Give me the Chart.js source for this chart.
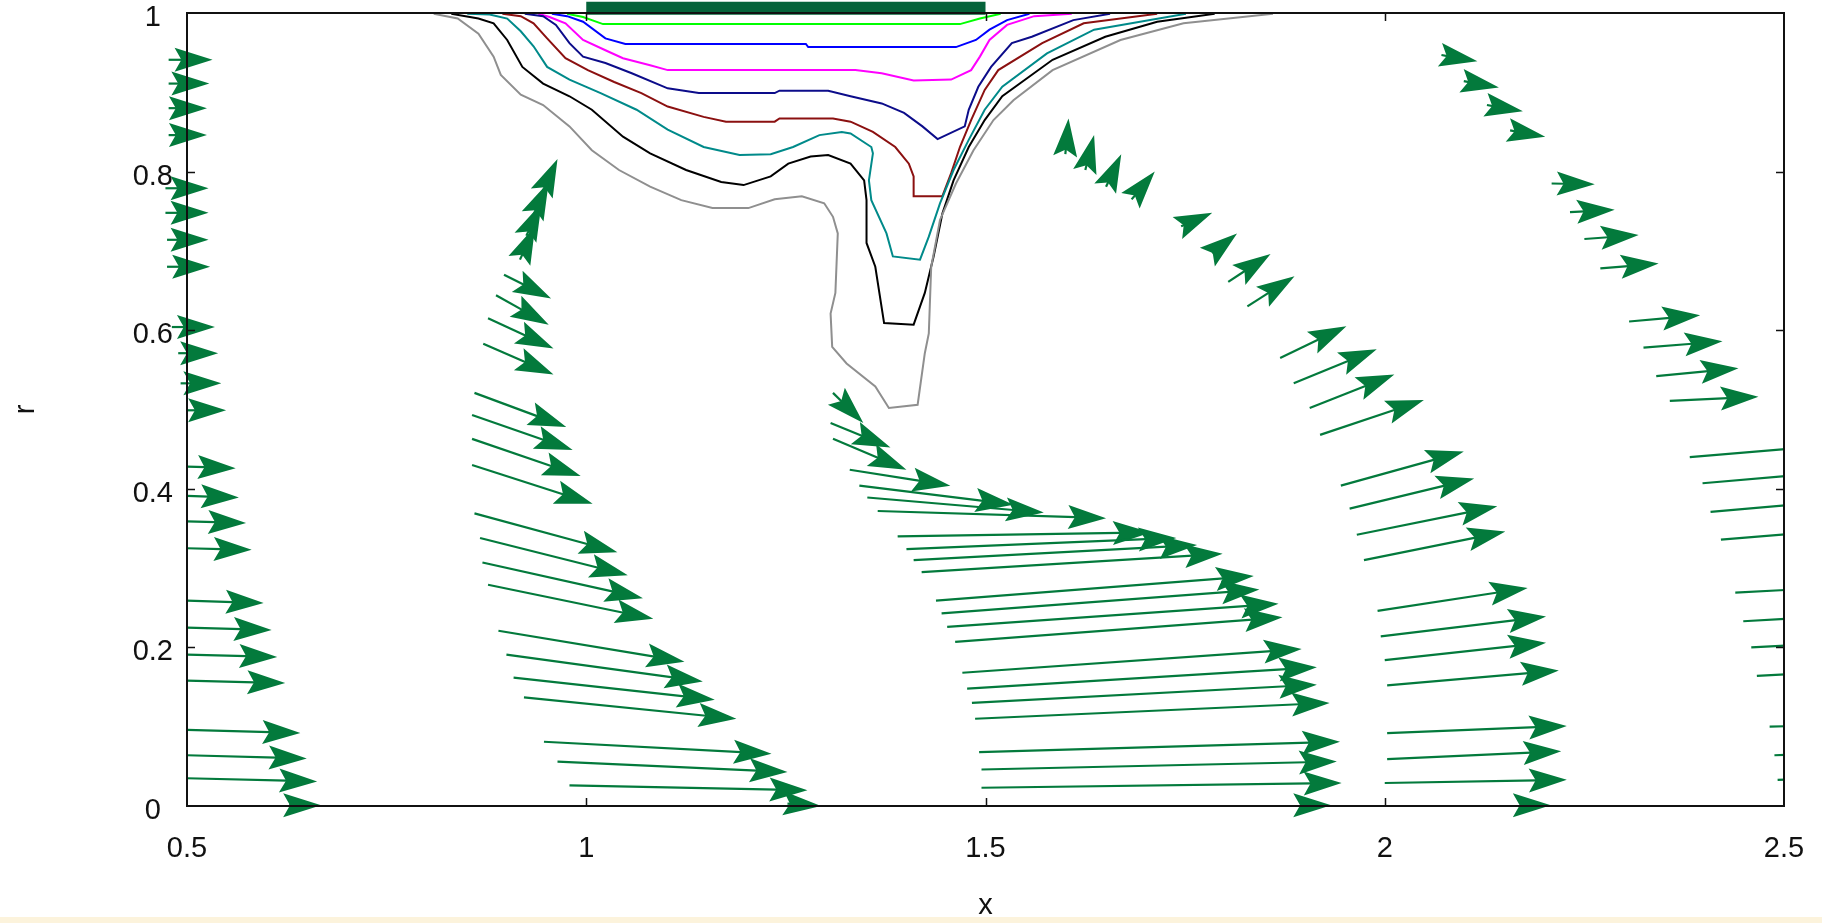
<!DOCTYPE html>
<html>
<head>
<meta charset="utf-8">
<script src="https://cdn.jsdelivr.net/npm/chart.js@4"></script>
<style>
html, body { margin: 0; padding: 0; background: #fff; overflow: hidden; }
#wrap { position: relative; width: 1822px; height: 923px; }
#band { position: absolute; left: 0; top: 917px; width: 1822px; height: 6px; background: #fcf3dc; }
</style>
</head>
<body>
<div id="wrap">
<canvas id="chart" width="1822" height="923"></canvas>
<div id="band"></div>
</div>
<script>

// axis ticks
const xTicks = [0.5, 1, 1.5, 2, 2.5]
const yTicks = [0, 0.2, 0.4, 0.6, 0.8, 1]

// heater bar on the wall (x from / to, r)
const barX = [1.0, 1.5]
const barY = 1.006

// 🔹 contour lines, [x, r] pairs
const contourGreen = [[0.976,0.999],[0.996,0.995],[1.021,0.986],[1.468,0.986],[1.493,0.993],[1.519,0.999]]

const contourBlue = [[0.957,0.999],[0.976,0.996],[0.996,0.989],[1.024,0.968],[1.049,0.961],[1.275,0.961],
[1.278,0.957],[1.463,0.957],[1.488,0.966],[1.505,0.979],[1.527,0.991],[1.555,0.999]]

const contourMagenta = [[0.940,0.999],[0.954,0.995],[0.974,0.987],[0.996,0.966],[1.024,0.953],[1.046,0.943],
[1.080,0.934],[1.102,0.928],[1.337,0.928],[1.370,0.924],[1.410,0.915],[1.457,0.916],[1.482,0.928],
[1.493,0.945],[1.505,0.966],[1.527,0.985],[1.561,0.996],[1.608,0.999]]

const contourNavy = [[0.923,0.999],[0.946,0.996],[0.962,0.985],[0.979,0.962],[0.996,0.945],[1.024,0.937],
[1.057,0.924],[1.102,0.905],[1.141,0.899],[1.236,0.899],[1.242,0.902],[1.303,0.902],[1.331,0.895],
[1.370,0.886],[1.398,0.874],[1.421,0.857],[1.440,0.841],[1.474,0.857],[1.479,0.878],[1.491,0.907],
[1.507,0.932],[1.533,0.962],[1.558,0.970],[1.610,0.991],[1.656,0.999]]

const contourMaroon = [[0.895,0.999],[0.918,0.996],[0.934,0.987],[0.951,0.968],[0.974,0.943],[1.002,0.928],
[1.035,0.913],[1.069,0.899],[1.102,0.882],[1.147,0.869],[1.175,0.863],[1.236,0.863],[1.242,0.867],
[1.309,0.867],[1.331,0.863],[1.359,0.850],[1.387,0.831],[1.404,0.810],[1.410,0.794],[1.410,0.769],
[1.446,0.769],[1.457,0.798],[1.468,0.831],[1.482,0.865],[1.499,0.903],[1.516,0.928],[1.571,0.962],
[1.623,0.987],[1.715,0.999]]

const contourTeal = [[0.851,0.999],[0.879,0.998],[0.901,0.993],[0.918,0.977],[0.934,0.958],[0.951,0.932],
[0.979,0.916],[1.018,0.899],[1.063,0.878],[1.102,0.853],[1.147,0.831],[1.192,0.821],[1.231,0.822],
[1.259,0.831],[1.292,0.846],[1.320,0.850],[1.331,0.848],[1.357,0.831],[1.359,0.823],[1.354,0.789],
[1.357,0.764],[1.376,0.722],[1.384,0.693],[1.418,0.689],[1.429,0.718],[1.443,0.760],[1.460,0.802],
[1.479,0.840],[1.499,0.878],[1.521,0.907],[1.577,0.949],[1.636,0.979],[1.751,0.999]]

const contourBlack = [[0.831,0.999],[0.865,0.993],[0.884,0.987],[0.901,0.966],[0.920,0.932],[0.946,0.911],
[0.979,0.895],[1.007,0.878],[1.046,0.844],[1.080,0.823],[1.125,0.802],[1.169,0.787],[1.197,0.783],
[1.231,0.794],[1.253,0.810],[1.281,0.819],[1.303,0.821],[1.331,0.810],[1.348,0.789],[1.351,0.764],
[1.351,0.710],[1.362,0.680],[1.373,0.609],[1.410,0.607],[1.424,0.647],[1.435,0.693],[1.446,0.747],
[1.460,0.789],[1.479,0.831],[1.499,0.865],[1.521,0.895],[1.584,0.941],[1.650,0.970],[1.715,0.989],
[1.787,0.999]]

const contourGray = [[0.809,0.999],[0.839,0.993],[0.865,0.974],[0.884,0.945],[0.893,0.922],[0.918,0.897],
[0.946,0.884],[0.979,0.857],[1.007,0.827],[1.041,0.802],[1.080,0.781],[1.119,0.764],[1.158,0.754],
[1.203,0.754],[1.236,0.765],[1.270,0.769],[1.298,0.760],[1.309,0.743],[1.315,0.722],[1.312,0.647],
[1.306,0.621],[1.308,0.579],[1.326,0.558],[1.362,0.529],[1.379,0.502],[1.415,0.506],[1.424,0.571],
[1.429,0.596],[1.432,0.680],[1.443,0.739],[1.463,0.785],[1.485,0.827],[1.510,0.865],[1.535,0.890],
[1.584,0.928],[1.669,0.966],[1.748,0.987],[1.860,0.999]]

// 🔹 velocity arrows, [x tail, r tail, x tip, r tip]
const arrowsCol1 = [
[0.477,0.941,0.532,0.941],[0.477,0.911,0.528,0.911],[0.477,0.880,0.525,0.880],[0.477,0.846,0.525,0.846],
[0.473,0.779,0.527,0.779],[0.473,0.748,0.527,0.748],[0.475,0.714,0.527,0.714],[0.475,0.680,0.529,0.680],
[0.481,0.604,0.535,0.604],[0.489,0.571,0.539,0.571],[0.492,0.533,0.543,0.533],[0.500,0.499,0.549,0.499],
[0.500,0.428,0.561,0.426],[0.500,0.391,0.565,0.389],[0.500,0.359,0.574,0.357],[0.500,0.325,0.581,0.323],
[0.500,0.259,0.596,0.256],[0.500,0.225,0.606,0.222],[0.500,0.191,0.613,0.188],[0.500,0.158,0.623,0.155],
[0.500,0.096,0.642,0.092],[0.500,0.064,0.650,0.060],[0.500,0.035,0.663,0.031],[0.628,0.001,0.668,0.001]
]

const arrowsCol2 = [
[0.945,0.774,0.964,0.816],[0.934,0.746,0.953,0.787],[0.925,0.719,0.944,0.760],[0.917,0.689,0.936,0.731],
[0.897,0.670,0.956,0.640],[0.887,0.644,0.953,0.607],[0.877,0.615,0.959,0.577],[0.871,0.583,0.959,0.544],
[0.860,0.521,0.975,0.478],[0.857,0.493,0.983,0.449],[0.857,0.463,0.993,0.416],[0.857,0.430,1.008,0.381],
[0.860,0.369,1.039,0.320],[0.867,0.338,1.052,0.291],[0.870,0.307,1.071,0.262],[0.877,0.279,1.084,0.236],
[0.890,0.221,1.123,0.182],[0.900,0.191,1.146,0.157],[0.909,0.162,1.161,0.134],[0.922,0.137,1.188,0.110],
[0.947,0.081,1.232,0.066],[0.964,0.056,1.252,0.043],[0.979,0.026,1.277,0.020],[1.252,0.003,1.294,0.000]
]

const arrowsCol3 = [
[1.309,0.521,1.347,0.483],[1.306,0.483,1.381,0.452],[1.309,0.463,1.401,0.424],
[1.330,0.424,1.456,0.404],[1.342,0.404,1.535,0.380],[1.352,0.389,1.573,0.370],[1.365,0.372,1.651,0.363],
[1.390,0.340,1.707,0.345],[1.401,0.324,1.739,0.338],[1.410,0.310,1.765,0.329],[1.420,0.295,1.797,0.318],
[1.438,0.259,1.836,0.290],[1.445,0.243,1.843,0.273],[1.452,0.226,1.867,0.255],[1.462,0.207,1.872,0.238],
[1.471,0.168,1.896,0.198],[1.477,0.148,1.915,0.175],[1.483,0.130,1.915,0.153],[1.487,0.110,1.931,0.130],
[1.492,0.068,1.944,0.081],[1.495,0.046,1.940,0.056],[1.495,0.023,1.946,0.029],[1.896,0.001,1.933,0.001]
]

const arrowsCol4 = [
[1.600,0.822,1.604,0.867],[1.625,0.802,1.636,0.846],[1.651,0.781,1.670,0.822],[1.683,0.765,1.712,0.800],
[1.745,0.731,1.784,0.748],[1.784,0.697,1.815,0.722],[1.804,0.661,1.857,0.696],[1.828,0.630,1.887,0.668],
[1.869,0.565,1.952,0.605],[1.886,0.533,1.990,0.576],[1.906,0.502,2.012,0.544],[1.919,0.468,2.049,0.512],
[1.945,0.404,2.099,0.447],[1.956,0.375,2.112,0.413],[1.965,0.342,2.141,0.378],[1.974,0.310,2.151,0.346],
[1.991,0.246,2.179,0.275],[1.995,0.214,2.202,0.239],[2.000,0.184,2.202,0.206],[2.003,0.152,2.218,0.171],
[2.003,0.092,2.228,0.101],[2.003,0.059,2.221,0.069],[2.000,0.029,2.228,0.033],[2.176,0.001,2.208,0.001]
]

const arrowsCol5 = [
[2.071,0.947,2.116,0.939],[2.099,0.914,2.143,0.906],[2.128,0.884,2.173,0.876],[2.157,0.852,2.201,0.844],
[2.209,0.785,2.263,0.784],[2.232,0.749,2.288,0.752],[2.250,0.715,2.318,0.720],[2.270,0.678,2.343,0.684],
[2.306,0.611,2.395,0.619],[2.324,0.578,2.423,0.586],[2.340,0.542,2.443,0.552],[2.357,0.511,2.468,0.516],
[2.382,0.440,2.594,0.458],[2.398,0.407,2.594,0.424],[2.408,0.371,2.594,0.387],[2.421,0.336,2.594,0.350],
[2.439,0.269,2.623,0.279],[2.449,0.233,2.623,0.243],[2.459,0.200,2.623,0.209],[2.466,0.164,2.623,0.173],
[2.482,0.100,2.652,0.105],[2.488,0.064,2.652,0.069],[2.492,0.033,2.652,0.036]
]

const arrowGroups = [arrowsCol1, arrowsCol2, arrowsCol3, arrowsCol4, arrowsCol5]

const arrowColor = "#037a3c"
const labelFont = { family: "'Liberation Sans', Arial, sans-serif", size: 29, lineHeight: 1.2 }


function toPoints(pairs){
return pairs.map(p => ({ x: p[0], y: p[1] }))
}

function contour(pairs, color){
return {
data: toPoints(pairs),
showLine: true,
borderColor: color,
borderWidth: 2,
pointRadius: 0,
tension: 0,
fill: false
}
}


// 🔹 arrows, drawn with the chart's own scales
const quiverPlugin = {
id: "quiver",
afterDatasetsDraw(chart){

const { ctx, chartArea, scales } = chart
const L = 38
const W = 12

ctx.save()
ctx.beginPath()
ctx.rect(0, 0, chartArea.right + 1, chart.height)
ctx.clip()

ctx.strokeStyle = arrowColor
ctx.fillStyle = arrowColor
ctx.lineWidth = 2.2

arrowGroups.forEach(group => {
group.forEach(a => {

const x0 = scales.x.getPixelForValue(a[0])
const y0 = scales.y.getPixelForValue(a[1])
const x1 = scales.x.getPixelForValue(a[2])
const y1 = scales.y.getPixelForValue(a[3])

const len = Math.hypot(x1 - x0, y1 - y0) || 1
const ux = (x1 - x0) / len
const uy = (y1 - y0) / len
const nx = -uy
const ny = ux

// shaft
if(len > L * 0.8){
ctx.beginPath()
ctx.moveTo(x0, y0)
ctx.lineTo(x1 - ux * L * 0.8, y1 - uy * L * 0.8)
ctx.stroke()
}

// head: triangle with a small notch at the back
ctx.beginPath()
ctx.moveTo(x1, y1)
ctx.lineTo(x1 - ux * L + nx * W, y1 - uy * L + ny * W)
ctx.lineTo(x1 - ux * L * 0.82, y1 - uy * L * 0.82)
ctx.lineTo(x1 - ux * L - nx * W, y1 - uy * L - ny * W)
ctx.closePath()
ctx.fill()

})
})

ctx.restore()
}
}


// 🔹 box frame with inward ticks
const framePlugin = {
id: "frame",
afterDraw(chart){

const { ctx, chartArea: a, scales } = chart
const t = 8

ctx.save()
ctx.strokeStyle = "#111"
ctx.lineWidth = 2
ctx.strokeRect(a.left, a.top, a.right - a.left, a.bottom - a.top)

ctx.lineWidth = 1.5
ctx.beginPath()

xTicks.slice(1, -1).forEach(v => {
const px = Math.round(scales.x.getPixelForValue(v)) + 0.5
ctx.moveTo(px, a.bottom); ctx.lineTo(px, a.bottom - t)
ctx.moveTo(px, a.top); ctx.lineTo(px, a.top + t)
})

yTicks.slice(1, -1).forEach(v => {
const py = Math.round(scales.y.getPixelForValue(v)) + 0.5
ctx.moveTo(a.left, py); ctx.lineTo(a.left + t, py)
ctx.moveTo(a.right, py); ctx.lineTo(a.right - t, py)
})

ctx.stroke()
ctx.restore()
}
}


const datasets = [
contour(contourGray, "#8f8f8f"),
contour(contourBlack, "#000000"),
contour(contourTeal, "#008a8a"),
contour(contourMaroon, "#8b1010"),
contour(contourNavy, "#0c0c8a"),
contour(contourMagenta, "#ff00ff"),
contour(contourBlue, "#0000ff"),
contour(contourGreen, "#00ff00"),
{
data: barX.map(v => ({ x: v, y: barY })),
showLine: true,
borderColor: "#05633a",
borderWidth: 13,
borderCapStyle: "butt",
pointRadius: 0,
clip: false
}
]


new Chart(document.getElementById("chart"), {
type: "scatter",
data: { datasets },
options: {
responsive: false,
animation: false,
devicePixelRatio: 1,
layout: { padding: { top: 13, right: 38, left: 0, bottom: 0 } },
plugins: { legend: { display: false }, tooltip: { enabled: false } },
scales: {
x: {
type: "linear",
min: 0.5,
max: 2.5,
afterBuildTicks: s => { s.ticks = xTicks.map(v => ({ value: v })) },
afterFit: s => { s.height = 117; s.paddingLeft = 0; s.paddingRight = 0 },
grid: { display: false, drawTicks: false },
border: { display: false },
ticks: { padding: 26, font: labelFont, color: "#111", maxRotation: 0, callback: v => String(v) },
title: { display: true, text: "x", font: labelFont, color: "#111", padding: 0 }
},
y: {
type: "linear",
min: 0,
max: 1,
afterBuildTicks: s => { s.ticks = yTicks.map(v => ({ value: v })) },
afterFit: s => { s.width = 187; s.paddingTop = 0; s.paddingBottom = 0 },
grid: { display: false, drawTicks: false },
border: { display: false },
ticks: { padding: 14, labelOffset: 5, crossAlign: "center", font: labelFont, color: "#111", callback: v => String(v) },
title: { display: true, text: "r", font: labelFont, color: "#111", padding: { top: 9, bottom: 0 } }
}
}
},
plugins: [quiverPlugin, framePlugin]
})

</script>
</body>
</html>
